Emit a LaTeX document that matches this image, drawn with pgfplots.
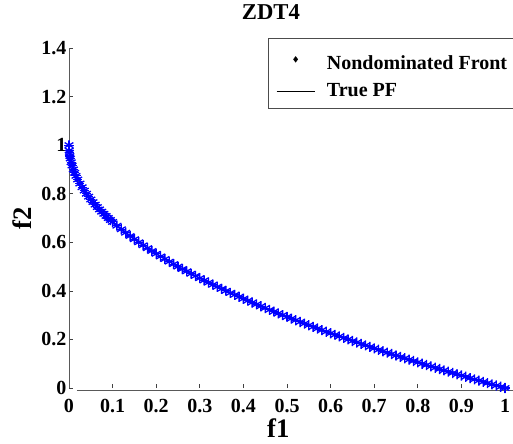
\documentclass[border=0pt]{standalone}
\usepackage{pgfplots}
\usepackage{pgfplotstable}
\pgfplotsset{compat=1.18}
\usepackage{fontspec}
\setmainfont{Liberation Serif}

% Nondominated front obtained on ZDT4 (f1, f2)
\pgfplotstableread{
f1 f2
0.000 1.0000
0.0005 0.9776
0.001 0.9684
0.002 0.9553
0.003 0.9452
0.005 0.9293
0.007 0.9163
0.010 0.9000
0.013 0.8860
0.016 0.8735
0.020 0.8586
0.025 0.8419
0.030 0.8268
0.035 0.8129
0.040 0.8000
0.045 0.7879
0.050 0.7764
0.055 0.7655
0.060 0.7551
0.065 0.7450
0.070 0.7354
0.075 0.7261
0.080 0.7172
0.085 0.7085
0.090 0.7000
0.095 0.6918
0.100 0.6838
0.110 0.6683
0.120 0.6536
0.130 0.6394
0.140 0.6258
0.150 0.6127
0.160 0.6000
0.170 0.5877
0.180 0.5757
0.190 0.5641
0.200 0.5528
0.210 0.5417
0.220 0.5310
0.230 0.5204
0.240 0.5101
0.250 0.5000
0.260 0.4901
0.270 0.4804
0.280 0.4708
0.290 0.4615
0.300 0.4523
0.310 0.4432
0.320 0.4343
0.330 0.4255
0.340 0.4169
0.350 0.4084
0.360 0.4000
0.370 0.3917
0.380 0.3836
0.390 0.3755
0.400 0.3675
0.410 0.3597
0.420 0.3519
0.430 0.3443
0.440 0.3367
0.450 0.3292
0.460 0.3218
0.470 0.3144
0.480 0.3072
0.490 0.3000
0.500 0.2929
0.510 0.2859
0.520 0.2789
0.530 0.2720
0.540 0.2652
0.550 0.2584
0.560 0.2517
0.570 0.2450
0.580 0.2384
0.590 0.2319
0.600 0.2254
0.610 0.2190
0.620 0.2126
0.630 0.2063
0.640 0.2000
0.650 0.1938
0.660 0.1876
0.670 0.1815
0.680 0.1754
0.690 0.1693
0.700 0.1633
0.710 0.1574
0.720 0.1515
0.730 0.1456
0.740 0.1398
0.750 0.1340
0.760 0.1282
0.770 0.1225
0.780 0.1168
0.790 0.1112
0.800 0.1056
0.810 0.1000
0.820 0.0945
0.830 0.0890
0.840 0.0835
0.850 0.0780
0.860 0.0726
0.870 0.0673
0.880 0.0619
0.890 0.0566
0.900 0.0513
0.910 0.0461
0.920 0.0408
0.930 0.0356
0.940 0.0305
0.950 0.0253
0.960 0.0202
0.970 0.0151
0.980 0.0101
0.990 0.0050
1.000 0.0000
}\zdtfront

\begin{document}
\begin{tikzpicture}
\path[use as bounding box] (-51.75pt,-41.25pt) rectangle (333pt,291pt);
\begin{axis}[
  scale only axis,
  width=327pt, height=255pt,
  xmin=0, xmax=1, ymin=0, ymax=1.4,
  clip=false,
  axis lines*=left,
  axis line style={draw=none},
  tick align=inside,
  major tick length=3pt,
  tick style={black!75, line width=0.5pt},
  xtick={0,0.1,0.2,0.3,0.4,0.5,0.6,0.7,0.8,0.9,1},
  ytick={0,0.2,0.4,0.6,0.8,1,1.2,1.4},
  /pgf/number format/assume math mode=true,
  tick label style={font=\fontsize{15}{18}\selectfont\bfseries},
  xticklabel style={yshift=-5pt},
  yticklabel style={xshift=1.5pt},
  title={ZDT4},
  title style={font=\fontsize{17}{20}\selectfont\bfseries,
    at={(axis description cs:0.463,1)}, anchor=center, yshift=21pt},
  xlabel={f1}, ylabel={f2},
  xlabel style={font=\fontsize{20}{24}\selectfont\bfseries,
    at={(axis description cs:0.48,0)}, anchor=center, yshift=-30pt},
  ylabel style={font=\fontsize{20}{24}\selectfont\bfseries,
    at={(axis description cs:0,0.5)}, anchor=center, yshift=35pt},
  legend cell align=left,
  legend style={at={(axis description cs:0.4564,1.0294)}, anchor=north west,
    font=\fontsize{15}{18}\selectfont\bfseries,
    draw=black!70, line width=0.5pt, row sep=5.5pt, column sep=7pt,
    inner xsep=6pt, inner ysep=5pt},
]
% true Pareto front
\addplot[black, line width=0.5pt, forget plot] table[x=f1, y=f2] {\zdtfront};
% obtained nondominated solutions
\addplot[blue, only marks, mark=asterisk, mark size=3.8pt,
  mark options={line width=1pt}, forget plot] table[x=f1, y=f2] {\zdtfront};
\addplot[blue, only marks, mark=+, mark size=3.4pt,
  mark options={line width=0.8pt}, forget plot] table[x=f1, y=f2] {\zdtfront};
% separated axis lines
\draw[black!65, line width=0.6pt] (axis cs:0,0) -- (axis cs:0,1.4);
\draw[black!65, line width=0.6pt] ([yshift=-1.5pt]axis cs:0.018,0) -- ([yshift=-1.5pt]axis cs:1.03,0);
\addlegendimage{legend image code/.code={
  \draw[black, fill=black] plot[mark=diamond*, mark size=2pt] coordinates {(0.5cm,0cm)};}}
\addlegendentry{\rule{0pt}{16pt}Nondominated Front\hspace{8pt}}
\addlegendimage{legend image code/.code={\draw[black, line width=0.5pt] (0cm,0cm) -- (1cm,0cm);}}
\addlegendentry{True PF}
\end{axis}
\end{tikzpicture}
\end{document}
